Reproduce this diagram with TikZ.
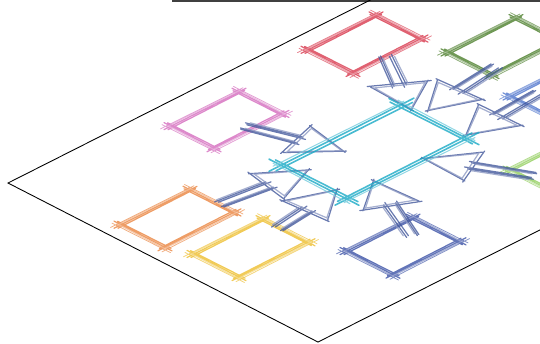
\documentclass[tikz,border=0pt]{standalone}

\definecolor{hubcyan}{HTML}{1AAAC6}
\definecolor{arrowblue}{HTML}{44599C}
\definecolor{boxred}{HTML}{D8394E}
\definecolor{boxgreen}{HTML}{4C7F2C}
\definecolor{boxpink}{HTML}{D46CBE}
\definecolor{boxorange}{HTML}{EA8540}
\definecolor{boxyellow}{HTML}{EDBE2E}
\definecolor{boxblue}{HTML}{3C52A6}
\definecolor{boxsky}{HTML}{4D74CC}
\definecolor{boxlime}{HTML}{92CE5E}

\tikzset{
  sk/.style={line width=0.7pt, line cap=round, opacity=0.8},
  hub/.style={sk, hubcyan, line width=0.9pt},
  pics/sbox/.style n args={3}{code={
    \draw[sk,#3] (-7,0) -- (#1+7,0) (-5,2) -- (#1+4,1.6)
      (#1,-7) -- (#1,#2+7) (#1-2,-4) -- (#1-1.6,#2+5)
      (#1+7,#2) -- (-7,#2) (#1+4,#2-2) -- (-4,#2-1.6)
      (0,#2+7) -- (0,-7) (2,#2+4) -- (1.6,-5);
    \draw[sk,#3!55] (-3,-1.5) -- (#1+3,-1) (#1+1.5,-3) -- (#1+1,#2+3)
      (#1+3,#2+1.5) -- (-3,#2+1) (-1.5,#2+3) -- (-1,-3);
    \draw[sk,#3!80,line width=0.45pt] (-8,-2.5) -- (#1+6,-2) (#1+2.5,-8) -- (#1+3,#2+6)
      (#1+8,#2+2.5) -- (-6,#2+3) (-2.5,#2+8) -- (-3,-6);
  }},
  pics/sarr/.style={code={
    \draw[sk,arrowblue] (0,-4) -- (#1-33,-4.5) (0,4) -- (#1-33,4.5)
      (2,-2) -- (#1-30,-2.5) (1,5.5) -- (#1-31,6)
      (#1-36,-21) -- (#1+3,1) (#1-36,21) -- (#1+3,-1) (#1-35,-23) -- (#1-37,23);
    \draw[sk,arrowblue!60] (#1-33,-18) -- (#1,0) -- (#1-33,18) (#1-33,-19) -- (#1-34,20)
      (3,-5.5) -- (#1-36,-6) (3,3) -- (#1-36,3.5);
  }}
}

\newcommand\skarrow[4]{%
  \pgfmathsetmacro\arrang{atan2(#2-#4,#3-#1)}%
  \pgfmathsetmacro\arrlen{veclen(#3-#1,#4-#2)}%
  \pic[transform shape,rotate=\arrang] at (#1,#2) {sarr=\arrlen};}

\begin{document}
\begin{tikzpicture}[x=0.02cm,y=-0.02cm]
\useasboundingbox (0,0) rectangle (540,343);
\clip (0,0) rectangle (540,343);

\draw[line width=1.4pt, black!75] (172,0.8) -- (560,0.8);

\begin{scope}[cm={1,0.505,-1,0.513,(8,183)}]
\draw[line width=0.5pt] (420,0) -- (0,0) -- (0,310) -- (300,310);

\pic[transform shape] (pink) at (138,25) {sbox={68}{43}{boxpink}};
\pic[transform shape] (red) at (282,18) {sbox={68}{45}{boxred}};
\pic[transform shape] (green) at (350,90) {sbox={68}{44}{boxgreen}};
\pic[transform shape] (sky) at (338,164) {sbox={68}{45}{boxsky}};
\pic[transform shape] (lime) at (266,236) {sbox={68}{45}{boxlime}};
\pic[transform shape] (blue) at (104,235) {sbox={66}{46}{boxblue}};
\pic[transform shape] (yellow) at (24,162) {sbox={69}{45}{boxyellow}};
\pic[transform shape] (orange) at (16,97) {sbox={69}{44}{boxorange}};

\skarrow{175}{60}{200}{134}
\skarrow{316}{62}{276}{127}
\skarrow{362}{128}{284}{137}
\skarrow{357}{175}{279}{180}
\skarrow{272}{255}{234}{183}
\skarrow{151}{253}{186}{180}
\skarrow{90}{178}{158}{170}
\skarrow{85}{125}{163}{136}

\draw[hub] (143,118) -- (288,118) (147,121) -- (283,121.5)
  (275,106) -- (275,196) (272,110) -- (272.5,192)
  (287,184) -- (143,184) (283,181) -- (148,181.5)
  (155,196) -- (155,106) (158,192) -- (157.5,110);
\draw[hub,hubcyan!60,line width=0.6pt] (150,115) -- (280,116) (278,112) -- (277,190)
  (280,187) -- (150,186) (152,190) -- (153,112);
\end{scope}
\end{tikzpicture}
\end{document}
